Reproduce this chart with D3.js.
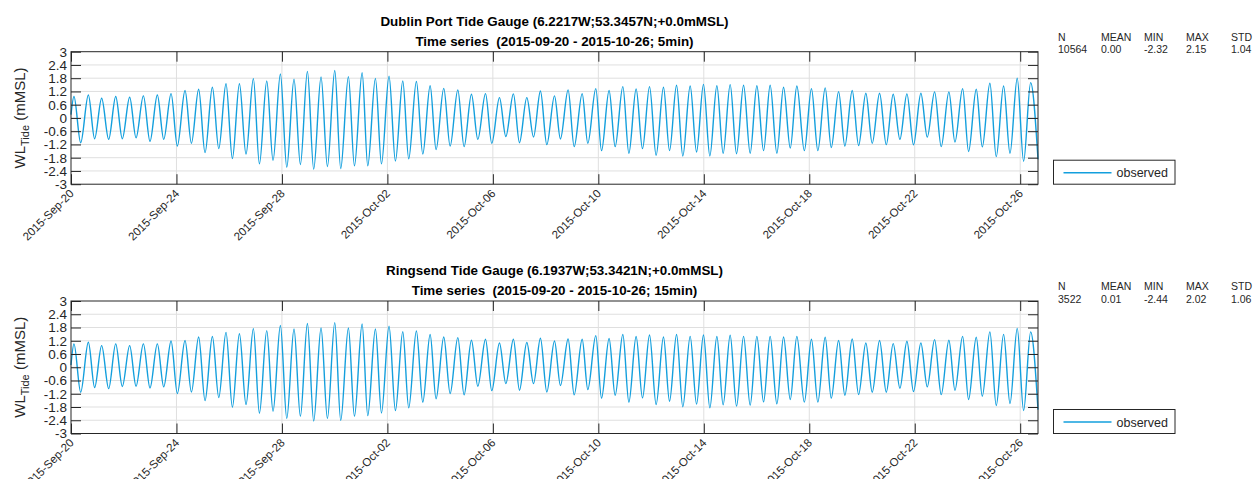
<!DOCTYPE html>
<html>
<head>
<meta charset="utf-8">
<script src="https://cdn.jsdelivr.net/npm/d3@7"></script>
<style>
  body { margin: 0; background: #fff; }
  svg { display: block; font-family: "Liberation Sans", Arial, Helvetica, sans-serif; }
  .title { white-space: pre; }
</style>
</head>
<body>
<svg id="chart" width="1254" height="479"></svg>
<script>
// tide extremes, hours after 2015-09-20 00:00 UTC
const highHours = [2.7, 15.8, 27.9, 40.7, 53.4, 65.9, 78.6, 91.1, 103.8, 116.2,
  128.7, 141.1, 153.3, 166.0, 178.2, 190.6, 203.0, 215.2, 227.6, 240.1,
  252.5, 265.0, 277.1, 289.5, 302.0, 314.4, 326.9, 339.3, 352.1, 364.5,
  377.3, 390.0, 402.7, 414.9, 427.3, 440.1, 452.5, 465.3, 477.7, 489.8,
  502.3, 514.4, 526.6, 539.3, 551.2, 563.6, 575.7, 587.9, 600.0, 612.2,
  624.3, 636.4, 648.6, 660.7, 674.0, 686.5, 698.7, 711.1, 723.5, 736.0,
  748.4, 760.9, 773.6, 786.1, 799.1, 811.6, 824.0, 836.4, 848.9, 861.3, 873.5]
const lowHours = [8.8, 21.5, 34.3, 46.7, 59.2, 71.9, 84.4, 96.8, 109.6, 122.0,
  134.5, 146.9, 159.3, 171.5, 183.9, 196.4, 208.8, 220.9, 233.4, 245.5,
  258.0, 270.1, 282.6, 295.3, 307.4, 320.2, 332.3, 345.1, 357.8, 370.3,
  383.0, 395.8, 408.2, 421.0, 433.1, 445.5, 458.0, 470.4, 482.9, 495.3,
  507.8, 520.2, 532.6, 544.8, 556.9, 569.4, 581.5, 593.6, 605.8, 618.2,
  630.4, 642.5, 654.7, 667.5, 679.8, 692.0, 704.4, 716.9, 729.3, 742.1,
  754.5, 766.9, 779.4, 792.1, 804.6, 817.0, 829.5, 842.2, 854.7, 867.1]
const endHours = 880.2

// Dublin Port
const dublinHighs = [0.97, 1.04, 0.89, 0.97, 0.94, 1.00, 1.04, 1.10, 1.24, 1.30,
  1.39, 1.55, 1.55, 1.78, 1.67, 1.99, 1.76, 2.11, 1.86, 2.15,
  1.87, 2.05, 1.79, 1.89, 1.67, 1.65, 1.46, 1.34, 1.27, 1.07,
  1.10, 0.92, 1.09, 0.92, 1.22, 1.00, 1.27, 1.10, 1.33, 1.24,
  1.42, 1.31, 1.42, 1.39, 1.48, 1.45, 1.52, 1.46, 1.51, 1.48,
  1.46, 1.48, 1.39, 1.45, 1.33, 1.36, 1.19, 1.24, 1.12, 1.12,
  1.07, 1.09, 1.12, 1.18, 1.18, 1.33, 1.30, 1.57, 1.45, 1.80, 1.60]
const dublinLows = [-1.12, -0.94, -0.97, -0.94, -0.90, -1.06, -0.97, -1.27, -1.15, -1.57,
  -1.39, -1.84, -1.64, -2.08, -1.92, -2.23, -2.11, -2.32, -2.20, -2.29,
  -2.17, -2.17, -2.08, -1.95, -1.85, -1.63, -1.43, -1.27, -1.30, -0.97,
  -1.15, -0.84, -1.12, -0.86, -1.21, -0.95, -1.30, -1.15, -1.48, -1.30,
  -1.60, -1.39, -1.69, -1.48, -1.72, -1.54, -1.72, -1.60, -1.62, -1.60,
  -1.48, -1.60, -1.36, -1.48, -1.48, -1.34, -1.27, -1.25, -1.15, -1.21,
  -0.97, -1.22, -0.87, -1.30, -1.09, -1.52, -1.31, -1.75, -1.60, -1.96]
const dublinEnds = [0.15, -1.87]

// Ringsend
const ringsendHighs = [1.06, 1.13, 0.98, 1.06, 0.98, 1.06, 1.06, 1.19, 1.21, 1.37,
  1.39, 1.58, 1.52, 1.75, 1.66, 1.89, 1.73, 1.98, 1.78, 2.02,
  1.78, 1.96, 1.73, 1.86, 1.61, 1.64, 1.48, 1.37, 1.34, 1.22,
  1.27, 1.10, 1.27, 1.12, 1.31, 1.19, 1.28, 1.27, 1.43, 1.30,
  1.48, 1.39, 1.46, 1.37, 1.48, 1.40, 1.46, 1.39, 1.45, 1.40,
  1.40, 1.40, 1.37, 1.40, 1.27, 1.36, 1.21, 1.28, 1.10, 1.21,
  1.07, 1.18, 1.10, 1.25, 1.22, 1.40, 1.36, 1.60, 1.49, 1.76, 1.60]
const ringsendLows = [-1.13, -0.92, -0.97, -0.87, -0.86, -0.94, -0.89, -1.19, -1.12, -1.51,
  -1.37, -1.81, -1.69, -2.08, -1.99, -2.32, -2.22, -2.44, -2.32, -2.41,
  -2.22, -2.19, -2.07, -1.96, -1.84, -1.58, -1.43, -1.19, -1.25, -0.86,
  -1.06, -0.74, -1.04, -0.74, -1.12, -0.83, -1.25, -1.01, -1.40, -1.27,
  -1.58, -1.39, -1.69, -1.54, -1.79, -1.67, -1.84, -1.70, -1.76, -1.72,
  -1.57, -1.66, -1.46, -1.58, -1.58, -1.40, -1.27, -1.24, -1.13, -1.13,
  -0.95, -1.10, -0.89, -1.24, -1.04, -1.46, -1.31, -1.73, -1.64, -1.96]
const ringsendEnds = [0.1, -1.92]

const xTickDays = ['2015-09-20', '2015-09-24', '2015-09-28', '2015-10-02', '2015-10-06',
  '2015-10-10', '2015-10-14', '2015-10-18', '2015-10-22', '2015-10-26']
const yTickValues = [-3, -2.4, -1.8, -1.2, -0.6, 0, 0.6, 1.2, 1.8, 2.4, 3]
const yTickLabels = ['-3', '-2.4', '-1.8', '-1.2', '-0.6', '0', '0.6', '1.2', '1.8', '2.4', '3']

const statHeaders = ['N', 'MEAN', 'MIN', 'MAX', 'STD']
const dublinStats = ['10564', '0.00', '-2.32', '2.15', '1.04']
const ringsendStats = ['3522', '0.01', '-2.44', '2.02', '1.06']

const dublinTitle = ['Dublin Port Tide Gauge (6.2217W;53.3457N;+0.0mMSL)',
  'Time series  (2015-09-20 - 2015-10-26; 5min)']
const ringsendTitle = ['Ringsend Tide Gauge (6.1937W;53.3421N;+0.0mMSL)',
  'Time series  (2015-09-20 - 2015-10-26; 15min)']

const start = Date.UTC(2015, 8, 20)
const toDate = h => new Date(start + h * 3600e3)
const parseDay = d3.utcParse('%Y-%m-%d')
const fmtDay = d3.utcFormat('%Y-%b-%d')

const axisCol = '#262626'
const gridCol = '#dfdfdf'
const lineCol = '#139fdd'

const svg = d3.select('#chart')
svg.append('rect').attr('width', 1254).attr('height', 479).attr('fill', '#fff')

const left = 71, right = 1038, plotH = 132.5

let x = d3.scaleUtc().domain([toDate(0), toDate(endHours)]).range([left, right])

function series(highs, lows, ends) {
	let pts = [{t: 0, v: ends[0]}]
	highs.forEach((v, i) => pts.push({t: highHours[i], v: v}))
	lows.forEach((v, i) => pts.push({t: lowHours[i], v: v}))
	pts.push({t: endHours, v: ends[1]})
	return pts.sort((a, b) => a.t - b.t)
}

function drawPanel(top, title, highs, lows, ends, stats) {

	let g = svg.append('g')
	let y = d3.scaleLinear().domain([-3, 3]).range([top + plotH, top])
	let bottom = top + plotH

	// grid
	g.append('g').selectAll('line.h')
		.data(yTickValues.slice(1, -1))
		.enter().append('line')
		.attr('x1', left).attr('x2', right)
		.attr('y1', d => y(d)).attr('y2', d => y(d))
		.attr('stroke', gridCol).attr('stroke-width', 1)

	g.append('g').selectAll('line.v')
		.data(xTickDays.slice(1))
		.enter().append('line')
		.attr('x1', d => x(parseDay(d))).attr('x2', d => x(parseDay(d)))
		.attr('y1', top).attr('y2', bottom)
		.attr('stroke', gridCol).attr('stroke-width', 1)

	// tide line
	let line = d3.line()
		.x(d => x(toDate(d.t)))
		.y(d => y(d.v))
		.curve(d3.curveMonotoneX)

	g.append('path')
		.datum(series(highs, lows, ends))
		.attr('d', line)
		.attr('fill', 'none')
		.attr('stroke', lineCol)
		.attr('stroke-width', 1.4)

	let tickDates = xTickDays.map(parseDay)

	// axes, ticks pointing inwards
	let xb = g.append('g').attr('transform', `translate(0,${bottom})`)
		.call(d3.axisBottom(x).tickValues(tickDates).tickFormat(fmtDay).tickSizeInner(-10).tickSizeOuter(0))
	let xt = g.append('g').attr('transform', `translate(0,${top})`)
		.call(d3.axisTop(x).tickValues(tickDates).tickFormat('').tickSizeInner(-10).tickSizeOuter(0))
	let yl = g.append('g').attr('transform', `translate(${left},0)`)
		.call(d3.axisLeft(y).tickValues(yTickValues).tickFormat((d, i) => yTickLabels[i]).tickSizeInner(-10).tickSizeOuter(0).tickPadding(4))
	let yr = g.append('g').attr('transform', `translate(${right},0)`)
		.call(d3.axisRight(y).tickValues(yTickValues).tickFormat('').tickSizeInner(-10).tickSizeOuter(0))

	;[xb, xt, yl, yr].forEach(a => {
		a.select('.domain').remove()
		a.selectAll('line').attr('stroke', axisCol)
		a.selectAll('text').attr('fill', axisCol).attr('font-family', 'Liberation Sans, Arial, sans-serif')
	})

	yl.selectAll('text').attr('font-size', 13.5)

	xb.selectAll('text')
		.attr('font-size', 11.5)
		.attr('text-anchor', 'end')
		.attr('y', 0).attr('dy', 0)
		.attr('transform', 'translate(3,10) rotate(-45)')

	g.append('rect')
		.attr('x', left).attr('y', top)
		.attr('width', right - left).attr('height', plotH)
		.attr('fill', 'none').attr('stroke', axisCol).attr('stroke-width', 1)

	// y label
	let yLab = g.append('text')
		.attr('transform', `translate(25,${top + plotH / 2}) rotate(-90)`)
		.attr('text-anchor', 'middle')
		.attr('font-size', 15)
		.attr('fill', axisCol)
	yLab.append('tspan').text('WL')
	yLab.append('tspan').attr('font-size', 11).attr('dy', 4).text('Tide')
	yLab.append('tspan').attr('dy', -4).text(' (mMSL)')

	// title
	g.selectAll('text.title')
		.data(title)
		.enter().append('text')
		.attr('class', 'title')
		.attr('x', (left + right) / 2)
		.attr('y', (d, i) => top - 25.7 + i * 20)
		.attr('text-anchor', 'middle')
		.attr('font-weight', 'bold')
		.attr('font-size', 13.4)
		.attr('fill', '#000')
		.text(d => d)

	// stats block
	let statX = [1058, 1101, 1144, 1186, 1231]
	statHeaders.forEach((h, i) => {
		g.append('text').attr('x', statX[i]).attr('y', top - 11)
			.attr('font-size', 10.5).attr('fill', axisCol).text(h)
		g.append('text').attr('x', statX[i]).attr('y', top + 1.5)
			.attr('font-size', 10.5).attr('fill', axisCol).text(stats[i])
	})

	// legend
	let lg = g.append('g').attr('transform', `translate(1053.5,${bottom - 24})`)
	lg.append('rect').attr('width', 121.5).attr('height', 24)
		.attr('fill', '#fff').attr('stroke', axisCol).attr('stroke-width', 1)
	lg.append('line').attr('x1', 10).attr('x2', 58).attr('y1', 12.5).attr('y2', 12.5)
		.attr('stroke', lineCol).attr('stroke-width', 1.4)
	lg.append('text').attr('x', 63).attr('y', 17)
		.attr('font-size', 12.5).attr('fill', axisCol).text('observed')
}

drawPanel(51.7, dublinTitle, dublinHighs, dublinLows, dublinEnds, dublinStats)
drawPanel(301, ringsendTitle, ringsendHighs, ringsendLows, ringsendEnds, ringsendStats)
</script>
</body>
</html>
